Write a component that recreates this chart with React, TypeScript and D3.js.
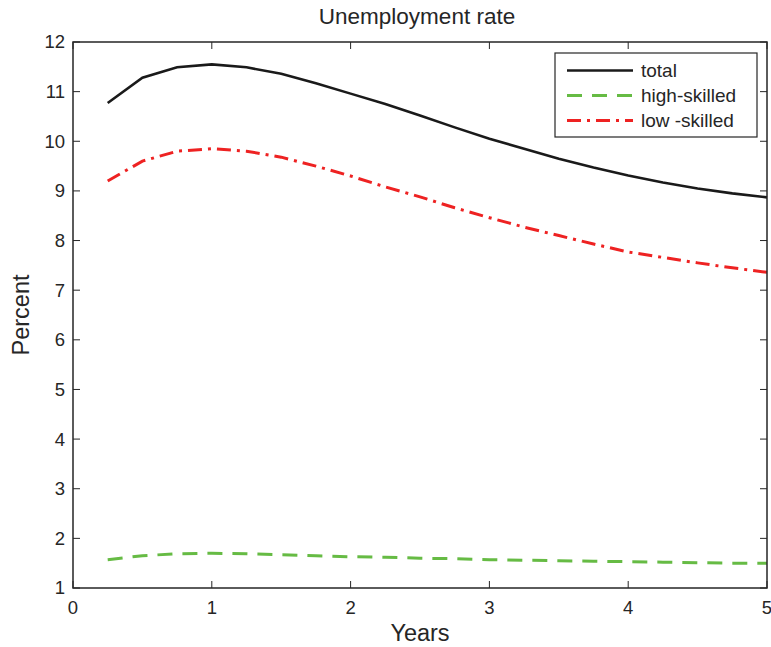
import React, { useEffect, useRef } from "react";
import * as d3 from "d3";

// quarters after the shock
const years = [0.25, 0.5, 0.75, 1, 1.25, 1.5, 1.75, 2, 2.25, 2.5, 2.75, 3, 3.25, 3.5, 3.75, 4, 4.25, 4.5, 4.75, 5];
const total = [10.77, 11.28, 11.49, 11.55, 11.49, 11.36, 11.17, 10.96, 10.75, 10.52, 10.28, 10.05, 9.85, 9.65, 9.47, 9.31, 9.17, 9.05, 8.95, 8.87];
const highSkilled = [1.57, 1.65, 1.69, 1.7, 1.69, 1.67, 1.65, 1.63, 1.62, 1.6, 1.59, 1.57, 1.56, 1.55, 1.54, 1.53, 1.52, 1.51, 1.5, 1.5];
const lowSkilled = [9.2, 9.6, 9.8, 9.85, 9.8, 9.68, 9.5, 9.3, 9.08, 8.88, 8.66, 8.46, 8.27, 8.1, 7.93, 7.77, 7.66, 7.55, 7.45, 7.36];
const xTicks = [0, 1, 2, 3, 4, 5];
const yTicks = [1, 2, 3, 4, 5, 6, 7, 8, 9, 10, 11, 12];

const series = [
  { name: "total", values: total, color: "#1a1a1a", dash: "none", width: 2.6 },
  { name: "high-skilled", values: highSkilled, color: "#66bb44", dash: "15,10", width: 3 },
  { name: "low -skilled", values: lowSkilled, color: "#ee2222", dash: "14,6,3,6", width: 3 },
];

export default function App() {
  const svgRef = useRef<SVGSVGElement>(null);

  useEffect(() => {
    const W = 771, H = 647;
    const m = { left: 73, right: 4, top: 42, bottom: 59 };
    const svg = d3.select(svgRef.current);
    svg.selectAll("*").remove();
    const font = "'Liberation Sans', Arial, sans-serif";

    const x = d3.scaleLinear().domain([0, 5]).range([m.left, W - m.right]);
    const y = d3.scaleLinear().domain([1, 12]).range([H - m.bottom, m.top]);

    svg.append("rect").attr("width", W).attr("height", H).attr("fill", "#fff");

    const axisColor = "#262626";
    const tickLen = 7;
    const g = svg.append("g");

    // ticks on all sides, pointing inward
    xTicks.forEach((t) => {
      g.append("line").attr("x1", x(t)).attr("x2", x(t)).attr("y1", y(1)).attr("y2", y(1) - tickLen).attr("stroke", axisColor);
      g.append("line").attr("x1", x(t)).attr("x2", x(t)).attr("y1", y(12)).attr("y2", y(12) + tickLen).attr("stroke", axisColor);
      g.append("text").attr("x", x(t)).attr("y", y(1) + 26).attr("text-anchor", "middle")
        .attr("font-family", font).attr("font-size", 18.5).attr("fill", axisColor).text(t);
    });
    yTicks.forEach((t) => {
      g.append("line").attr("x1", x(0)).attr("x2", x(0) + tickLen).attr("y1", y(t)).attr("y2", y(t)).attr("stroke", axisColor);
      g.append("line").attr("x1", x(5)).attr("x2", x(5) - tickLen).attr("y1", y(t)).attr("y2", y(t)).attr("stroke", axisColor);
      g.append("text").attr("x", x(0) - 8).attr("y", y(t)).attr("dy", "0.35em").attr("text-anchor", "end")
        .attr("font-family", font).attr("font-size", 18.5).attr("fill", axisColor).text(t);
    });

    const line = d3.line<number>().x((_, i) => x(years[i])).y((d) => y(d));
    series.forEach((s) => {
      svg.append("path").attr("d", line(s.values)).attr("fill", "none").attr("stroke", s.color)
        .attr("stroke-width", s.width).attr("stroke-dasharray", s.dash);
    });

    svg.append("rect").attr("x", x(0)).attr("y", y(12)).attr("width", x(5) - x(0)).attr("height", y(1) - y(12))
      .attr("fill", "none").attr("stroke", axisColor).attr("stroke-width", 1.5);

    // title and labels
    svg.append("text").attr("x", (x(0) + x(5)) / 2 - 3).attr("y", 24).attr("text-anchor", "middle")
      .attr("font-family", font).attr("font-size", 22.5).attr("fill", axisColor).text("Unemployment rate");
    svg.append("text").attr("x", (x(0) + x(5)) / 2).attr("y", 641).attr("text-anchor", "middle")
      .attr("font-family", font).attr("font-size", 23.5).attr("fill", axisColor).text("Years");
    svg.append("text").attr("transform", `translate(29,${(y(1) + y(12)) / 2}) rotate(-90)`).attr("text-anchor", "middle")
      .attr("font-family", font).attr("font-size", 23.5).attr("fill", axisColor).text("Percent");

    // legend
    const lg = svg.append("g");
    lg.append("rect").attr("x", 555).attr("y", 53).attr("width", 202).attr("height", 84)
      .attr("fill", "#fff").attr("stroke", axisColor).attr("stroke-width", 1.2);
    series.forEach((s, i) => {
      const ly = 70.5 + i * 25;
      lg.append("line").attr("x1", 567).attr("x2", 633).attr("y1", ly).attr("y2", ly).attr("stroke", s.color)
        .attr("stroke-width", s.width).attr("stroke-dasharray", s.dash);
      lg.append("text").attr("x", 641).attr("y", ly).attr("dy", "0.35em").attr("font-family", font)
        .attr("font-size", 19).attr("fill", axisColor).text(s.name);
    });
  }, []);

  return <svg ref={svgRef} width={771} height={647} style={{ position: "absolute", left: 0, top: 0 }} />;
}
